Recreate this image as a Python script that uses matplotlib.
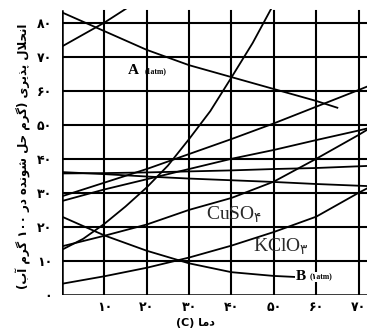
import re

import matplotlib
matplotlib.use('Agg')
import matplotlib.pyplot as plt

# solubility curves (g per 100 g water)
a_t = [0, 10, 20, 30, 40, 50, 60, 65]
a_sol = [83, 77.5, 72, 67.5, 64, 60.5, 57, 55]

b_t = [0, 10, 20, 30, 40, 50, 55]
b_sol = [23, 17.5, 13, 9.3, 6.7, 5.6, 5.3]

nano3_t = [0, 10, 20]
nano3_sol = [73, 80, 88]

kno3_t = [0, 5, 10, 15, 20, 25, 30, 35, 40, 45, 50]
kno3_sol = [13.3, 16.5, 20.9, 26, 31.6, 38, 45.8, 54, 63.9, 74, 85.5]

temps = [0, 10, 20, 30, 40, 50, 60, 70, 72]
nh4cl_sol = [29, 33, 37, 41.4, 45.8, 50.4, 55.3, 60.2, 61.2]
kcl_sol = [27.6, 31, 34, 37, 40, 42.6, 45.5, 48.3, 48.9]
nacl_sol = [35.7, 35.8, 36, 36.3, 36.6, 37, 37.3, 37.8, 37.9]
li2so4_sol = [36.1, 35.5, 34.8, 34.2, 33.7, 33.2, 32.6, 32.1, 32]
cuso4_sol = [14.3, 17.4, 20.7, 25, 28.5, 33.3, 40, 47, 48.5]
kclo3_sol = [3.3, 5.5, 8, 11, 14.5, 18.5, 23, 30, 31.3]

grid_t = [10, 20, 30, 40, 50, 60, 70]
grid_s = [10, 20, 30, 40, 50, 60, 70, 80]
x_labels = ['۱۰', '۲۰', '۳۰', '۴۰', '۵۰', '۶۰', '۷۰']
y_labels = ['۰', '۱۰', '۲۰', '۳۰', '۴۰', '۵۰', '۶۰', '۷۰', '۸۰']

# presentation forms: isolated, final, initial, medial
FORMS = {
    'ا': ('\uFE8D', '\uFE8E', None, None),
    'آ': ('\uFE81', '\uFE82', None, None),
    'ب': ('\uFE8F', '\uFE90', '\uFE91', '\uFE92'),
    'پ': ('\uFB56', '\uFB57', '\uFB58', '\uFB59'),
    'ح': ('\uFEA1', '\uFEA2', '\uFEA3', '\uFEA4'),
    'د': ('\uFEA9', '\uFEAA', None, None),
    'ذ': ('\uFEAB', '\uFEAC', None, None),
    'ر': ('\uFEAD', '\uFEAE', None, None),
    'ش': ('\uFEB5', '\uFEB6', '\uFEB7', '\uFEB8'),
    'گ': ('\uFB92', '\uFB93', '\uFB94', '\uFB95'),
    'ل': ('\uFEDD', '\uFEDE', '\uFEDF', '\uFEE0'),
    'م': ('\uFEE1', '\uFEE2', '\uFEE3', '\uFEE4'),
    'ن': ('\uFEE5', '\uFEE6', '\uFEE7', '\uFEE8'),
    'ه': ('\uFEE9', '\uFEEA', '\uFEEB', '\uFEEC'),
    'و': ('\uFEED', '\uFEEE', None, None),
    'ی': ('\uFBFC', '\uFBFD', '\uFBFE', '\uFBFF'),
}
LTR = r'[0-9A-Za-z\u06F0-\u06F9]+'


def shape(text):
    out = []
    for i, ch in enumerate(text):
        if ch not in FORMS:
            out.append(ch)
            continue
        prev = text[i - 1] if i > 0 else ''
        nxt = text[i + 1] if i + 1 < len(text) else ''
        join_prev = prev in FORMS and FORMS[prev][2] is not None
        join_next = nxt in FORMS and FORMS[ch][2] is not None
        iso, fin, ini, med = FORMS[ch]
        if join_prev and join_next:
            out.append(med)
        elif join_prev:
            out.append(fin)
        elif join_next:
            out.append(ini)
        else:
            out.append(iso)
    s = ''.join(out)
    return s.replace('\uFEDF\uFE8E', '\uFEFB').replace('\uFEE0\uFE8E', '\uFEFC')


def rtl(text):
    parts = re.findall(LTR + '|[^0-9A-Za-z\u06F0-\u06F9]+', shape(text))
    out = []
    for p in reversed(parts):
        if re.fullmatch(LTR, p):
            out.append(p)
        else:
            out.append(p[::-1].translate(str.maketrans('()', ')(')))
    return ''.join(out)


fig = plt.figure(figsize=(3.69, 3.32), dpi=100)
ax = fig.add_axes([62 / 369, 37 / 332, 305 / 369, 286 / 332])
ax.set_xlim(0, 72)
ax.set_ylim(0, 84)
for sp in ax.spines.values():
    sp.set_visible(False)

# grid drawn as heavy black lines like the printed chart
top = 83.4 / 84
ax.axvline(0, ymax=top, color='black', lw=1.8)
for t in grid_t:
    ax.axvline(t, ymax=top, color='black', lw=1.5)
ax.axhline(0, color='black', lw=1.8)
for s in grid_s:
    ax.axhline(s, color='black', lw=1.5)

curve = dict(color='black', lw=1.3)
ax.plot(a_t, a_sol, **curve)
ax.plot(b_t, b_sol, **curve)
ax.plot(nano3_t, nano3_sol, **curve)
ax.plot(kno3_t, kno3_sol, **curve)
ax.plot(temps, nh4cl_sol, **curve)
ax.plot(temps, kcl_sol, **curve)
ax.plot(temps, nacl_sol, **curve)
ax.plot(temps, li2so4_sol, **curve)
ax.plot(temps, cuso4_sol, **curve)
ax.plot(temps, kclo3_sol, **curve)

serif = ['Liberation Serif', 'DejaVu Sans']
ax.text(15.5, 66, 'A', fontsize=11, fontweight='bold', family=serif, va='center')
ax.text(19.4, 65.8, '(1atm)', fontsize=5.5, fontweight='bold', family=serif, va='center')
ax.text(55.2, 5.3, 'B', fontsize=11, fontweight='bold', family=serif, va='center',
        bbox=dict(fc='white', ec='none', pad=0.5))
ax.text(58.4, 5.3, '(۱atm)', fontsize=5.5, fontweight='bold', family=serif, va='center',
        bbox=dict(fc='white', ec='none', pad=0.5))
ax.text(34, 23.5, 'CuSO$_{۴}$', fontsize=14, color='#2a2a2a', family=serif, va='center')
ax.text(45, 14, 'KClO$_{۳}$', fontsize=14, color='#2a2a2a', family=serif, va='center')

ax.set_xticks(grid_t)
ax.set_xticklabels(x_labels, fontsize=9, fontweight='bold')
ax.set_yticks([0] + grid_s)
ax.set_yticklabels(y_labels, fontsize=9, fontweight='bold')
ax.tick_params(length=0)
ax.tick_params(axis='x', pad=4)
ax.tick_params(axis='y', pad=7)

fig.text(23 / 369, 0.53, rtl('انحلال پذیری (گرم حل شونده در ۱۰۰ گرم آب)'),
         rotation=90, fontsize=8.5, fontweight='bold', ha='center', va='center')
fig.text(195 / 369, 9 / 332, rtl('دما (C)'), fontsize=8, fontweight='bold',
         ha='center', va='center')

fig.savefig('out.png', dpi=100)
